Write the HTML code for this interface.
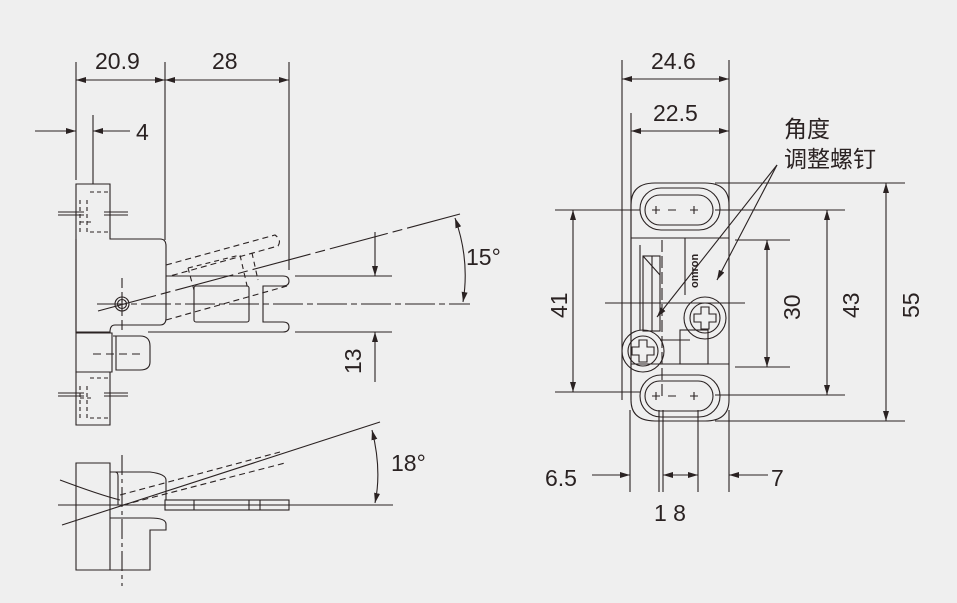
<!DOCTYPE html>
<html><head><meta charset="utf-8"><style>
html,body{margin:0;padding:0;background:#efefef;}
svg{display:block}
text{font-family:"Liberation Sans","Noto Sans CJK SC",sans-serif;fill:#2a2222}
</style></head><body>
<svg width="957" height="603" viewBox="0 0 957 603" xmlns="http://www.w3.org/2000/svg">
<defs>
<marker id="a" viewBox="0 0 10 6" refX="10" refY="3" markerWidth="10" markerHeight="6" orient="auto-start-reverse" markerUnits="userSpaceOnUse"><path d="M0,0L10,3L0,6z" fill="#2a2222"/></marker>
</defs>
<rect width="957" height="603" fill="#efefef"/>
<g stroke="#2a2222" stroke-width="1.1" fill="none">
<line x1="76" y1="62" x2="76" y2="180"/>
<line x1="165" y1="62" x2="165" y2="240"/>
<line x1="289" y1="62" x2="289" y2="270"/>
<line x1="76" y1="80" x2="165" y2="80" marker-start="url(#a)" marker-end="url(#a)"/>
<line x1="165" y1="80" x2="289" y2="80" marker-start="url(#a)" marker-end="url(#a)"/>
<line x1="93" y1="115" x2="93" y2="184"/>
<line x1="35" y1="131" x2="76" y2="131" marker-end="url(#a)"/>
<line x1="130" y1="131" x2="93" y2="131" marker-end="url(#a)"/>
<path d="M76,184 H110 V239 H160 Q166,239 166,246 V318 Q166,325 160,325 H115 Q110,325 110,332 H76 Z"/>
<line x1="76" y1="239" x2="76" y2="333"/>
<path d="M76,333 H112 V372 H76 Z"/>
<path d="M76,372 H110 V425 H76 Z"/>
<path d="M113,336 H140 Q150,336 150,346 V362 Q150,370 140,370 H116 V336" />
<line x1="93" y1="354" x2="143" y2="354" stroke-dasharray="8,5"/>
<path d="M58,212 H84 M58,215 H84 M104,212 H128 M104,215 H128"/>
<path d="M58,393 H84 M58,396 H84 M104,393 H128 M104,396 H128"/>
<path d="M90,192 H110 M80,200 V232 M87,200 V232 M80,222 H93 M90,232 H110" stroke-dasharray="4,3"/>
<path d="M90,378 H110 M80,386 V418 M87,386 V418 M80,398 H93 M90,418 H110" stroke-dasharray="4,3"/>
<path d="M166,276 H283 Q289,276 289,281 Q289,286 283,286 H263 V322 H283 Q289,322 289,327 Q289,332 283,332 H148"/>
<rect x="194" y="286" width="55" height="36" rx="2"/>
<path d="M166,265 L275,235 Q282,240 278,246 L170,276" stroke-dasharray="6,4"/>
<path d="M166,320 L287,286" stroke-dasharray="6,4"/>
<path d="M188,268 L240,255 L248,290 M194,290 L188,268 M252,253 L258,280" stroke-dasharray="5,4"/>
<circle cx="122" cy="304" r="7"/><circle cx="122" cy="304" r="4.5"/>
<path d="M119,304H125M122,301V307"/>
<line x1="97" y1="304" x2="470" y2="304" stroke-dasharray="30,4,6,4"/>
<line x1="122" y1="278" x2="122" y2="330" stroke-dasharray="10,4"/>
<line x1="98" y1="311" x2="460" y2="214" stroke-dasharray="60,5,10,5"/>
<path d="M455,218 Q470,260 463,302" marker-start="url(#a)" marker-end="url(#a)"/>
<line x1="295" y1="276" x2="392" y2="276"/>
<line x1="295" y1="332" x2="392" y2="332"/>
<line x1="375" y1="232" x2="375" y2="276" marker-end="url(#a)"/>
<line x1="375" y1="382" x2="375" y2="332" marker-end="url(#a)"/>
<path d="M76,463 H110 V570 H76 Z"/>
<path d="M110,472 H115 Q118,472 118,476 V505"/>
<path d="M115,472 H150 Q166,474 166,480 V500"/>
<path d="M110,518 H150 Q166,518 166,524 V530 H150 V570 H110"/>
<line x1="58" y1="505" x2="393" y2="505"/>
<rect x="165" y="500" width="124" height="10"/>
<line x1="194" y1="500" x2="194" y2="510"/><line x1="249" y1="500" x2="249" y2="510"/><line x1="260" y1="500" x2="260" y2="510"/>
<line x1="62" y1="525" x2="380" y2="422"/>
<path d="M120,495 L280,452 M123,505 L285,463" stroke-dasharray="6,4"/>
<path d="M60,480 Q100,495 120,500"/>
<line x1="122" y1="455" x2="122" y2="586" stroke-dasharray="20,4,4,4"/>
<path d="M372,430 Q382,470 375,503" marker-start="url(#a)" marker-end="url(#a)"/>
<line x1="622" y1="60" x2="622" y2="400"/>
<line x1="631" y1="113" x2="631" y2="400"/>
<line x1="729" y1="60" x2="729" y2="210"/>
<line x1="622" y1="79" x2="729" y2="79" marker-start="url(#a)" marker-end="url(#a)"/>
<line x1="631" y1="131" x2="729" y2="131" marker-start="url(#a)" marker-end="url(#a)"/>
<path d="M655,183 H705 Q729,183 729,205 V400 Q729,421 705,421 H655 Q631,421 631,400 V205 Q631,183 655,183 Z"/>
<rect x="640" y="188" width="80" height="42" rx="21"/>
<rect x="645" y="195" width="68" height="30" rx="15"/>
<rect x="640" y="375" width="80" height="42" rx="21"/>
<rect x="645" y="381" width="68" height="30" rx="15"/>
<line x1="631" y1="238" x2="729" y2="238"/>
<line x1="631" y1="364" x2="729" y2="364"/>
<line x1="685" y1="238" x2="685" y2="295"/>
<rect x="643" y="256" width="17" height="75"/>
<line x1="652" y1="256" x2="652" y2="331"/>
<line x1="640" y1="245" x2="640" y2="330"/>
<path d="M643,256 L660,275"/>
<circle cx="705" cy="318" r="21"/><circle cx="705" cy="318" r="15"/>
<path d="M701,307h8v7h7v8h-7v7h-8v-7h-7v-8h7z"/>
<circle cx="643" cy="351" r="21"/><circle cx="643" cy="351" r="15"/>
<path d="M639,340h8v7h7v8h-7v7h-8v-7h-7v-8h7z"/>
<rect x="680" y="330" width="28" height="34"/>
<path d="M660,340 H690"/>
<line x1="605" y1="303" x2="745" y2="303"/>
<line x1="662" y1="240" x2="662" y2="400" stroke-dasharray="12,4"/>
<path d="M652,210h8M656,206v8M668,210h8M690,210h8M694,206v8"/>
<path d="M652,396h8M656,392v8M668,396h8M690,396h8M694,392v8"/>
<line x1="555" y1="210" x2="640" y2="210"/>
<line x1="555" y1="392" x2="640" y2="392"/>
<line x1="573" y1="210" x2="573" y2="392" marker-start="url(#a)" marker-end="url(#a)"/>
<line x1="715" y1="183" x2="905" y2="183"/>
<line x1="715" y1="210" x2="845" y2="210"/>
<line x1="735" y1="240" x2="790" y2="240"/>
<line x1="735" y1="367" x2="790" y2="367"/>
<line x1="715" y1="395" x2="845" y2="395"/>
<line x1="715" y1="421" x2="905" y2="421"/>
<line x1="767" y1="240" x2="767" y2="367" marker-start="url(#a)" marker-end="url(#a)"/>
<line x1="827" y1="210" x2="827" y2="395" marker-start="url(#a)" marker-end="url(#a)"/>
<line x1="886" y1="183" x2="886" y2="421" marker-start="url(#a)" marker-end="url(#a)"/>
<line x1="777" y1="165" x2="657" y2="317" marker-end="url(#a)"/>
<line x1="777" y1="165" x2="717" y2="280" marker-end="url(#a)"/>
<line x1="630" y1="410" x2="630" y2="492"/>
<line x1="659" y1="410" x2="659" y2="492"/>
<line x1="663" y1="410" x2="663" y2="492"/>
<line x1="698" y1="410" x2="698" y2="492"/>
<line x1="729" y1="410" x2="729" y2="492"/>
<line x1="592" y1="475" x2="630" y2="475" marker-end="url(#a)"/>
<line x1="680" y1="475" x2="663" y2="475" marker-end="url(#a)"/>
<line x1="680" y1="475" x2="698" y2="475" marker-end="url(#a)"/>
<line x1="768" y1="475" x2="729" y2="475" marker-end="url(#a)"/>
</g>
<g font-size="23">
<text x="95" y="69">20.9</text>
<text x="212" y="69">28</text>
<text x="136" y="140">4</text>
<text x="466" y="265">15°</text>
<text x="391" y="471">18°</text>
<text transform="translate(361,374) rotate(-90)">13</text>
<text x="651" y="69">24.6</text>
<text x="653" y="121">22.5</text>
<text transform="translate(567,318) rotate(-90)">41</text>
<text transform="translate(800,320) rotate(-90)">30</text>
<text transform="translate(859,318) rotate(-90)">43</text>
<text transform="translate(919,318) rotate(-90)">55</text>
<text x="545" y="486">6.5</text>
<text x="771" y="486">7</text>
<text x="654" y="521">1 8</text>
<text x="784" y="137">角度</text>
<text x="784" y="167">调整螺钉</text>
</g>
<text transform="translate(698,288) rotate(-90)" font-size="11" font-weight="bold">omron</text>
</svg>
</body></html>
